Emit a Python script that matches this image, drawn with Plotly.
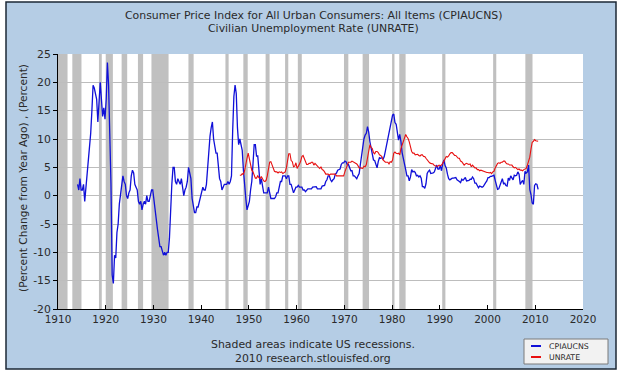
import plotly.graph_objects as go

# ---------------- data ----------------
title_lines = ["Consumer Price Index for All Urban Consumers: All Items (CPIAUCNS)",
               "Civilian Unemployment Rate (UNRATE)"]
y_title = "(Percent Change from Year Ago) , (Percent)"
footer_lines = ["Shaded areas indicate US recessions.", "2010 research.stlouisfed.org"]
series_names = ["CPIAUCNS", "UNRATE"]
x_ticks = [1910, 1920, 1930, 1940, 1950, 1960, 1970, 1980, 1990, 2000, 2010, 2020]
y_ticks = [-20, -15, -10, -5, 0, 5, 10, 15, 20, 25]

# CPI, percent change from year ago, quarterly readings starting 1914
cpi_start = 1914
cpi_q = [
    2.0, 1.0, 3.0, 1.0,      # 1914
    1.0, 2.0, -1.0, 1.5,     # 1915
    3.0, 5.0, 7.5, 11.0,     # 1916
    15.0, 19.5, 19.0, 18.0,  # 1917
    17.0, 13.0, 17.5, 20.0,  # 1918
    17.0, 14.0, 15.5, 13.5,  # 1919
    17.0, 23.5, 19.5, 12.0,  # 1920
    2.0, -14.0, -15.5, -10.5,  # 1921
    -11.0, -6.5, -5.0, -1.5,   # 1922
    0.5, 2.5, 3.5, 2.5,      # 1923
    2.0, 0.0, -0.5, 0.5,     # 1924
    1.0, 3.5, 4.5, 4.0,      # 1925
    2.0, 1.5, 1.0, -1.0,     # 1926
    -1.5, -1.0, -2.5, -1.5,  # 1927
    -1.0, -1.5, 0.0, -1.0,   # 1928
    -1.0, 0.0, 1.0, 1.0,     # 1929
    -1.0, -2.5, -4.5, -6.0,  # 1930
    -7.5, -9.0, -9.0, -10.0,   # 1931
    -10.5, -10.0, -10.5, -10.0,  # 1932
    -10.0, -7.5, -1.0, 2.0,  # 1933
    5.0, 5.0, 2.5, 2.0,      # 1934
    3.0, 2.5, 2.0, 3.0,      # 1935
    1.0, 0.0, 1.0, 1.5,      # 1936
    2.5, 5.0, 4.0, 3.0,      # 1937
    -0.5, -2.0, -3.0, -3.0,  # 1938
    -2.0, -2.0, -1.0, 0.0,   # 1939
    0.5, 1.5, 1.0, 1.0,      # 1940
    2.0, 5.0, 8.5, 10.5,     # 1941
    12.0, 13.0, 10.0, 9.0,   # 1942
    7.5, 7.5, 4.5, 3.0,      # 1943
    2.5, 1.0, 1.5, 2.0,      # 1944
    2.0, 2.0, 2.5, 2.0,      # 1945
    2.5, 3.5, 11.5, 17.5,    # 1946
    19.5, 18.0, 12.0, 9.0,   # 1947
    10.0, 9.0, 8.0, 4.5,     # 1948
    1.5, -0.5, -2.5, -1.5,   # 1949
    -1.0, 1.0, 2.5, 5.5,     # 1950
    9.0, 9.0, 7.0, 7.0,      # 1951
    4.5, 2.0, 3.0, 1.5,      # 1952
    0.5, 0.5, 0.5, 0.5,      # 1953
    1.5, 0.5, -0.5, -0.5,    # 1954
    -0.5, -0.5, -0.2, 0.5,   # 1955
    0.5, 1.5, 2.5, 2.5,      # 1956
    3.5, 3.5, 3.5, 3.0,      # 1957
    3.5, 3.5, 2.0, 2.0,      # 1958
    1.0, 0.5, 1.0, 1.5,      # 1959
    1.5, 1.8, 1.5, 1.5,      # 1960
    1.5, 1.0, 1.0, 0.7,      # 1961
    1.0, 1.2, 1.2, 1.2,      # 1962
    1.2, 1.5, 1.5, 1.6,      # 1963
    1.6, 1.2, 1.2, 1.2,      # 1964
    1.2, 1.7, 1.7, 1.8,      # 1965
    2.5, 2.8, 3.5, 3.5,      # 1966
    2.8, 2.5, 2.8, 3.0,      # 1967
    3.8, 4.0, 4.5, 4.6,      # 1968
    4.7, 5.5, 5.8, 5.8,      # 1969
    6.1, 6.0, 5.5, 5.5,      # 1970
    4.7, 4.4, 4.4, 3.5,      # 1971
    3.5, 3.3, 3.0, 3.5,      # 1972
    3.9, 5.5, 7.4, 8.4,      # 1973
    10.0, 10.7, 11.0, 12.2,  # 1974
    11.2, 9.5, 8.6, 7.4,     # 1975
    6.3, 6.2, 5.7, 4.9,      # 1976
    6.0, 6.7, 6.6, 6.7,      # 1977
    6.4, 6.9, 7.9, 8.9,      # 1978
    9.9, 10.8, 11.8, 12.6,   # 1979
    14.2, 14.4, 12.9, 12.6,  # 1980
    11.4, 9.8, 10.8, 9.6,    # 1981
    7.6, 6.7, 5.9, 4.6,      # 1982
    3.5, 3.5, 2.6, 3.3,      # 1983
    4.6, 4.2, 4.3, 4.1,      # 1984
    3.5, 3.6, 3.3, 3.5,      # 1985
    3.1, 1.6, 1.6, 1.3,      # 1986
    2.1, 3.9, 4.3, 4.5,      # 1987
    3.9, 3.9, 4.0, 4.2,      # 1988
    4.8, 5.4, 4.7, 4.7,      # 1989
    5.3, 4.4, 5.6, 6.3,      # 1990
    5.3, 4.9, 3.8, 3.0,      # 1991
    2.8, 3.0, 3.1, 3.1,      # 1992
    3.2, 3.2, 2.8, 2.7,      # 1993
    2.5, 2.3, 2.9, 2.7,      # 1994
    2.9, 3.2, 2.6, 2.6,      # 1995
    2.7, 2.9, 2.9, 3.3,      # 1996
    3.0, 2.2, 2.2, 1.8,      # 1997
    1.4, 1.7, 1.6, 1.5,      # 1998
    1.6, 2.1, 2.3, 2.6,      # 1999
    3.2, 3.2, 3.4, 3.4,      # 2000
    3.5, 3.6, 2.7, 1.9,      # 2001
    1.1, 1.2, 1.8, 2.2,      # 2002
    3.0, 2.1, 2.2, 1.8,      # 2003
    1.7, 3.1, 2.7, 3.5,      # 2004
    3.0, 2.8, 3.6, 3.5,      # 2005
    3.6, 4.2, 3.8, 2.0,      # 2006
    2.4, 2.7, 2.0, 4.3,      # 2007
    4.0, 4.2, 5.4, 1.1,      # 2008
    0.2, -1.3, -1.5, 1.8,    # 2009
    2.1, 2.0, 1.1,           # 2010
]

# Civilian unemployment rate, quarterly readings starting 1948
unrate_start = 1948
unrate_q = [
    3.6, 3.6, 3.9, 3.8,   # 1948
    4.4, 5.8, 6.6, 7.5,   # 1949
    6.4, 5.5, 4.5, 4.2,   # 1950
    3.4, 3.1, 3.1, 3.5,   # 1951
    3.2, 3.0, 3.4, 2.8,   # 1952
    2.6, 2.5, 2.7, 3.5,   # 1953
    5.2, 5.9, 6.0, 5.3,   # 1954
    4.7, 4.3, 4.2, 4.2,   # 1955
    4.0, 4.2, 4.1, 4.2,   # 1956
    3.9, 4.1, 4.2, 4.9,   # 1957
    6.4, 7.4, 7.4, 6.2,   # 1958
    6.0, 5.1, 5.2, 5.8,   # 1959
    4.8, 5.1, 5.6, 6.1,   # 1960
    6.9, 7.1, 6.6, 6.1,   # 1961
    5.5, 5.5, 5.7, 5.7,   # 1962
    5.9, 5.9, 5.4, 5.7,   # 1963
    5.4, 5.2, 5.0, 4.8,   # 1964
    5.1, 4.6, 4.5, 4.2,   # 1965
    3.8, 3.8, 3.8, 3.6,   # 1966
    3.8, 3.8, 3.8, 3.9,   # 1967
    3.8, 3.5, 3.5, 3.4,   # 1968
    3.4, 3.4, 3.5, 3.5,   # 1969
    4.2, 4.8, 5.1, 5.9,   # 1970
    5.9, 5.9, 6.1, 6.0,   # 1971
    5.8, 5.7, 5.6, 5.3,   # 1972
    4.9, 4.9, 4.8, 4.8,   # 1973
    5.2, 5.1, 5.5, 6.6,   # 1974
    8.1, 9.0, 8.5, 8.3,   # 1975
    7.6, 7.4, 7.8, 7.8,   # 1976
    7.6, 7.2, 7.1, 6.9,   # 1977
    6.3, 6.0, 5.9, 5.9,   # 1978
    5.9, 5.6, 6.0, 5.9,   # 1979
    6.3, 7.5, 7.7, 7.5,   # 1980
    7.4, 7.5, 7.2, 8.3,   # 1981
    8.9, 9.4, 9.8, 10.8,  # 1982
    10.4, 10.1, 9.5, 8.5,  # 1983
    7.8, 7.5, 7.5, 7.2,   # 1984
    7.2, 7.3, 7.1, 7.0,   # 1985
    7.2, 7.2, 6.9, 6.9,   # 1986
    6.6, 6.3, 6.0, 5.8,   # 1987
    5.7, 5.6, 5.6, 5.3,   # 1988
    5.2, 5.2, 5.2, 5.4,   # 1989
    5.3, 5.4, 5.7, 6.2,   # 1990
    6.6, 6.9, 6.8, 7.0,   # 1991
    7.4, 7.6, 7.6, 7.4,   # 1992
    7.1, 7.1, 6.8, 6.6,   # 1993
    6.6, 6.1, 6.0, 5.6,   # 1994
    5.4, 5.6, 5.7, 5.6,   # 1995
    5.5, 5.6, 5.1, 5.4,   # 1996
    5.2, 4.9, 4.9, 4.6,   # 1997
    4.6, 4.4, 4.5, 4.4,   # 1998
    4.4, 4.2, 4.2, 4.1,   # 1999
    4.1, 4.0, 4.1, 3.9,   # 2000
    4.2, 4.3, 4.9, 5.5,   # 2001
    5.7, 5.8, 5.7, 5.9,   # 2002
    5.9, 6.1, 6.1, 5.8,   # 2003
    5.6, 5.6, 5.4, 5.4,   # 2004
    5.4, 5.1, 4.9, 5.0,   # 2005
    4.8, 4.6, 4.7, 4.5,   # 2006
    4.5, 4.4, 4.6, 4.7,   # 2007
    4.8, 5.4, 6.1, 6.8,   # 2008
    8.2, 9.4, 9.6, 9.9,   # 2009
    9.7, 9.6, 9.6,        # 2010
]

# NBER recessions (fractional years)
rec_start = [1910.0, 1913.0, 1918.58, 1920.0, 1923.33, 1926.75, 1929.58, 1937.33,
             1945.08, 1948.83, 1953.5, 1957.58, 1960.25, 1969.92, 1973.83, 1980.0,
             1981.5, 1990.5, 2001.17, 2007.92]
rec_end = [1912.0, 1914.92, 1919.17, 1921.5, 1924.5, 1927.83, 1933.17, 1938.42,
           1945.75, 1949.75, 1954.33, 1958.25, 1961.08, 1970.83, 1975.17, 1980.5,
           1982.83, 1991.17, 2001.83, 2009.42]

# ---------------- styling ----------------
FONT = "DejaVu Sans"
TXT = "#2a2a2a"
BLUE = "#1010d8"
RED = "#e81010"
PANEL = "#b5cde5"

L, R, T, B = 58, 583, 54, 309   # plot area pixel box
W, H = 620, 371


def px(p):
    return (p - L) / (R - L)


def py(p):
    return (B - p) / (B - T)


cpi_x = [cpi_start + 0.1 + i * 0.25 for i in range(len(cpi_q))]
un_x = [unrate_start + 0.1 + i * 0.25 for i in range(len(unrate_q))]

fig = go.Figure()
fig.add_trace(go.Scatter(x=cpi_x, y=cpi_q, mode="lines", name=series_names[0],
                         line=dict(color=BLUE, width=1.3), showlegend=False))
fig.add_trace(go.Scatter(x=un_x, y=unrate_q, mode="lines", name=series_names[1],
                         line=dict(color=RED, width=1.1), showlegend=False))

shapes = []
# panel background with border
shapes.append(dict(type="rect", xref="paper", yref="paper", layer="below",
                   x0=px(6), x1=px(616), y0=py(369), y1=py(2),
                   fillcolor=PANEL, line=dict(color="#1c2836", width=1.5)))
# plot area white
shapes.append(dict(type="rect", xref="paper", yref="paper", layer="below",
                   x0=0, x1=1, y0=0, y1=1, fillcolor="white", line=dict(width=0)))
for s, e in zip(rec_start, rec_end):
    shapes.append(dict(type="rect", xref="x", yref="paper", layer="below",
                       x0=s, x1=e, y0=0, y1=1, fillcolor="#c0c0c0",
                       line=dict(width=0)))
# legend box
shapes.append(dict(type="rect", xref="paper", yref="paper", layer="above",
                   x0=px(524), x1=px(608), y0=py(364), y1=py(339),
                   fillcolor="#f2f2f2", line=dict(color="#7a7a7a", width=1)))
for yy, col in [(346, BLUE), (357, RED)]:
    shapes.append(dict(type="line", xref="paper", yref="paper", layer="above",
                       x0=px(531), x1=px(541), y0=py(yy), y1=py(yy),
                       line=dict(color=col, width=2)))

TSIZE = 10.9
annotations = []
annotations.append(dict(text=title_lines[0], xref="paper", yref="paper",
                        x=px(313), y=py(15), showarrow=False, xanchor="center",
                        yanchor="middle", font=dict(family=FONT, size=TSIZE, color=TXT)))
annotations.append(dict(text=title_lines[1], xref="paper", yref="paper",
                        x=px(313), y=py(29), showarrow=False, xanchor="center",
                        yanchor="middle", font=dict(family=FONT, size=TSIZE, color=TXT)))
annotations.append(dict(text=y_title, xref="paper", yref="paper", textangle=-90,
                        x=px(23), y=py(178), showarrow=False, xanchor="center",
                        yanchor="middle", font=dict(family=FONT, size=10.6, color=TXT)))
annotations.append(dict(text=footer_lines[0], xref="paper", yref="paper",
                        x=px(313), y=py(344), showarrow=False, xanchor="center",
                        yanchor="middle", font=dict(family=FONT, size=TSIZE, color=TXT)))
annotations.append(dict(text=footer_lines[1], xref="paper", yref="paper",
                        x=px(313), y=py(358), showarrow=False, xanchor="center",
                        yanchor="middle", font=dict(family=FONT, size=TSIZE, color=TXT)))
for yy, name in [(346, series_names[0]), (357, series_names[1])]:
    annotations.append(dict(text=name, xref="paper", yref="paper",
                            x=px(547), y=py(yy), showarrow=False, xanchor="left",
                            yanchor="middle", font=dict(family=FONT, size=7.8, color=TXT)))

fig.update_layout(
    width=W, height=H, autosize=False,
    margin=dict(l=L, r=W - R, t=T, b=H - B, pad=0),
    paper_bgcolor="white", plot_bgcolor="rgba(0,0,0,0)",
    shapes=shapes, annotations=annotations, showlegend=False,
    font=dict(family=FONT, size=10, color=TXT),
    hovermode=False,
)
fig.update_xaxes(range=[1910, 2020], tickvals=x_ticks, ticktext=[str(v) for v in x_ticks],
                 ticks="inside", ticklen=4, tickcolor="black", showline=True,
                 linecolor="black", linewidth=1, showgrid=False, zeroline=False,
                 automargin=False, fixedrange=True,
                 tickfont=dict(family=FONT, size=10.5, color=TXT))
fig.update_yaxes(range=[-20, 25], tickvals=y_ticks, ticktext=[str(v) for v in y_ticks],
                 ticks="outside", ticklen=4, tickcolor="black", showline=True,
                 linecolor="black", linewidth=1, showgrid=True, gridcolor="#bdbdbd",
                 gridwidth=1, zeroline=False, automargin=False, fixedrange=True,
                 tickfont=dict(family=FONT, size=10.8, color=TXT))

fig.write_html("out.html",
               config={"displayModeBar": False, "staticPlot": True},
               post_script="document.body.style.margin='0';document.body.style.padding='0';"
                           "document.body.style.overflow='hidden';")
